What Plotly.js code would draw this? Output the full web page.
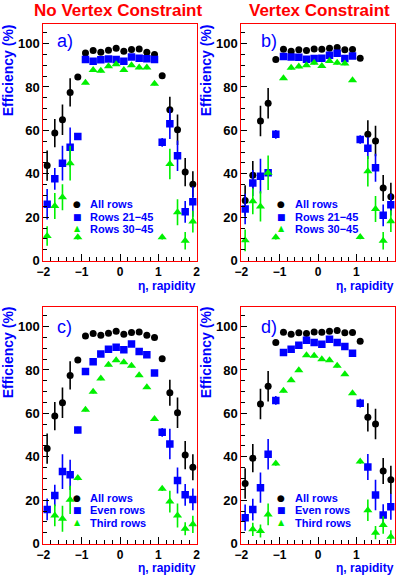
<!DOCTYPE html>
<html><head><meta charset="utf-8">
<script src="https://cdn.plot.ly/plotly-3.0.1.min.js"></script>
<style>html,body{margin:0;padding:0;background:#fff}#chart{width:398px;height:576px}</style>
</head><body><div id="chart"></div>
<script>
// pseudorapidity bin centres
const eta = [-1.9,-1.7,-1.5,-1.3,-1.1,-0.9,-0.7,-0.5,-0.3,-0.1,0.1,0.3,0.5,0.7,0.9,1.1,1.3,1.5,1.7,1.9];

// No vertex constraint: all rows
const noVtxAll    = [43.8,58.8,64.9,77.5,84.6,95.7,96.8,96.0,96.9,97.8,96.5,97.2,97.5,96.0,94.9,85.2,69.5,60.3,40.8,35.2];
const noVtxAllErr = [7,6.5,7,6.5,1.2,0.8,0.8,0.8,0.8,0.8,0.8,0.8,0.8,0.8,0.8,1.2,6,7,6.5,6];
// No vertex constraint: rows 21-45
const noVtxR21    = [26.0,37.7,44.9,52.3,57.2,92.6,91.8,92.5,92.9,92.6,91.8,93.8,93.2,93.0,92.6,54.5,63.1,48.3,22.5,27.2];
const noVtxR21Err = [7,5,8,9,1.5,0.8,0.8,0.8,0.8,0.8,0.8,0.8,0.8,0.8,0.8,2,7,7,5,7];
// No vertex constraint: rows 30-45
const noVtxR30    = [11.4,25.2,29.2,44.9,10.8,82.0,87.8,87.5,89.5,90.5,87.8,90.0,89.0,89.0,81.5,10.8,44.5,22.3,9.2,18.0];
const noVtxR30Err = [4.5,6,6,8,1,0.8,0.8,0.8,0.8,0.8,0.8,0.8,0.8,0.8,0.8,1,7,6,4,5];
// No vertex constraint: even rows
const noVtxEven    = [15.8,22.2,33.2,31.7,52.4,79.3,83.8,87.3,89.6,90.5,89.3,92.0,88.5,87.0,78.6,51.3,45.9,29.1,22.5,20.4];
const noVtxEvenErr = [5,5,8,7,1.5,0.8,0.8,0.8,0.8,0.8,0.8,0.8,0.8,0.8,0.8,2,7,6,5,5];
// No vertex constraint: third rows
const noVtxThird    = [null,13.0,11.5,20.2,30.2,61.7,70.0,76.1,82.4,84.5,83.5,81.9,77.6,72.0,57.4,25.3,19.4,13.0,6.9,8.9];
const noVtxThirdErr = [0,5,6,6.5,1,0.8,0.8,0.8,0.8,0.8,0.8,0.8,0.8,0.8,0.8,1,5,5.5,3,4];

// Vertex constraint: all rows
const vtxAll    = [27.7,39.4,64.3,72.5,92.6,97.4,96.5,97.1,96.8,97.5,97.4,97.8,98.2,97.1,97.2,93.2,58.2,55.1,33.5,29.4];
const vtxAllErr = [7,6.5,7,7,1,0.8,0.8,0.8,0.8,0.8,0.8,0.8,0.8,0.8,0.8,1,6.5,7,6,6.5];
// Vertex constraint: rows 21-45
const vtxR21    = [23.8,35.8,38.9,40.5,58.2,94.0,93.8,93.7,92.8,93.1,93.2,94.6,95.5,93.1,94.3,55.8,51.8,42.8,20.9,25.8];
const vtxR21Err = [7,6,8,1.5,2,0.8,0.8,0.8,0.8,0.8,0.8,0.8,0.8,0.8,0.8,2,5,6.5,5,5];
// Vertex constraint: rows 30-45
const vtxR30    = [9.4,27.4,25.0,40.5,10.8,84.0,88.9,89.4,90.0,91.2,89.7,92.0,91.2,90.8,83.1,10.9,41.2,23.8,9.2,18.2];
const vtxR30Err = [5,6,7,8,1,0.8,0.8,0.8,0.8,0.8,0.8,0.8,0.8,0.8,0.8,1,7,6,4,5];
// Vertex constraint: even rows
const vtxEven    = [12.0,15.7,25.8,41.2,66.0,88.0,89.6,91.4,93.7,92.6,91.9,94.2,92.6,90.8,87.7,64.7,35.3,22.4,13.2,17.0];
const vtxEvenErr = [6,5,7,7,2,0.8,0.8,0.8,0.8,0.8,0.8,0.8,0.8,0.8,0.8,2,6,7,5,6];
// Vertex constraint: third rows
const vtxThird    = [null,6.6,5.8,13.5,36.9,70.4,75.3,79.9,86.8,86.5,84.9,84.5,81.9,78.0,69.3,37.8,15.4,5.1,8.6,3.2];
const vtxThirdErr = [0,3,3,5,1,0.8,0.8,0.8,0.8,0.8,0.8,0.8,0.8,0.8,0.8,1,5,3,4,3];

const columnTitles = ['No Vertex Constraint','Vertex Constraint'];
const panelLabels = ['a)','b)','c)','d)'];
const seriesNames = [
  ['All rows','Rows 21\u221245','Rows 30\u221245'],
  ['All rows','Rows 21\u221245','Rows 30\u221245'],
  ['All rows','Even rows','Third rows'],
  ['All rows','Even rows','Third rows']
];
const yTitle = 'Efficiency (%)';
const xTitle = '\u03b7, rapidity';

const BLACK='#000000', BLUE='#0000ff', GREEN='#00f000', RED='#ff0000';
const styles = [
  {symbol:'circle', size:7, color:BLACK, glyph:'\u25cf'},
  {symbol:'square', size:7.5, color:BLUE, glyph:'\u25a0'},
  {symbol:'triangle-up', size:8, color:GREEN, glyph:'\u25b2'}
];

const panels = [
  {xa:'x', ya:'y', data:[[noVtxAll,noVtxAllErr],[noVtxR21,noVtxR21Err],[noVtxR30,noVtxR30Err]]},
  {xa:'x2',ya:'y2',data:[[vtxAll,vtxAllErr],[vtxR21,vtxR21Err],[vtxR30,vtxR30Err]]},
  {xa:'x3',ya:'y3',data:[[noVtxAll,noVtxAllErr],[noVtxEven,noVtxEvenErr],[noVtxThird,noVtxThirdErr]]},
  {xa:'x4',ya:'y4',data:[[vtxAll,vtxAllErr],[vtxEven,vtxEvenErr],[vtxThird,vtxThirdErr]]}
];

const W=398, H=576;
const colX = [[43.3,196.7],[241.3,394.7]];
const rowY = [[24,260.7],[307,543.7]];
const FONT = 'Liberation Sans, Arial, Helvetica, sans-serif';

const traces = [];
panels.forEach((p,pi)=>{
  p.data.forEach((d,si)=>{
    const st = styles[si];
    traces.push({
      type:'scatter', mode:'markers', x:eta, y:d[0],
      xaxis:p.xa, yaxis:p.ya, showlegend:false,
      marker:{symbol:st.symbol, size:st.size, color:st.color, line:{width:0}},
      error_y:{type:'data', array:d[1], visible:true, color:st.color, thickness:1.6, width:0}
    });
  });
});

const layout = {
  width:W, height:H, margin:{l:0,r:0,t:0,b:0},
  paper_bgcolor:'#ffffff', plot_bgcolor:'#ffffff',
  showlegend:false,
  font:{family:FONT, color:'#000'},
  annotations:[]
};

function xAxisDef(ci, anchor){
  return {
    domain:[colX[ci][0]/W, colX[ci][1]/W], anchor:anchor, range:[-2,2],
    tickmode:'linear', tick0:-2, dtick:1, ticks:'inside', ticklen:7, tickwidth:1, tickcolor:'#000',
    minor:{dtick:0.2, tick0:-2, ticks:'inside', ticklen:4, tickwidth:1, tickcolor:'#000'},
    showline:true, linecolor:RED, linewidth:1, mirror:true,
    showgrid:false, zeroline:false, fixedrange:true,
    tickfont:{family:FONT, size:12, color:'#000', weight:'bold'}
  };
}
function yAxisDef(ri, anchor){
  return {
    domain:[1-rowY[ri][1]/H, 1-rowY[ri][0]/H], anchor:anchor, range:[0,109],
    tickmode:'linear', tick0:0, dtick:20, ticks:'inside', ticklen:6, tickwidth:1, tickcolor:'#000',
    minor:{dtick:5, tick0:0, ticks:'inside', ticklen:4, tickwidth:1, tickcolor:'#000'},
    showline:true, linecolor:RED, linewidth:1, mirror:true,
    showgrid:false, zeroline:false, fixedrange:true,
    tickfont:{family:FONT, size:13, color:'#000', weight:'bold'}
  };
}
layout.xaxis  = xAxisDef(0,'y');
layout.xaxis2 = xAxisDef(1,'y2');
layout.xaxis3 = xAxisDef(0,'y3');
layout.xaxis4 = xAxisDef(1,'y4');
layout.yaxis  = yAxisDef(0,'x');
layout.yaxis2 = yAxisDef(0,'x2');
layout.yaxis3 = yAxisDef(1,'x3');
layout.yaxis4 = yAxisDef(1,'x4');

// column titles
const titleCx = [118, 319];
columnTitles.forEach((t,i)=>{
  layout.annotations.push({text:t, xref:'paper', yref:'paper', x:titleCx[i]/W, y:1-10/H,
    xanchor:'center', yanchor:'middle', showarrow:false, borderpad:0,
    font:{family:FONT, size:17, color:RED, weight:'bold'}});
});

// per-panel annotations
const yTitleCy = [70, 352];
const xTitleBottom = [293.5, 576];
const labelPos = [[-1.70,101],[-1.54,101],[-1.70,100],[-1.54,100]];
const legSymX = [-1.11,-0.96,-1.11,-0.96];
const legTxtX = [-0.80,-0.63,-0.80,-0.63];
const legRowsY = [[26.0,20.3,14.6],[26.0,20.3,14.6],[21.1,15.4,9.7],[21.1,15.4,9.7]];
panels.forEach((p,pi)=>{
  const ci = pi%2, ri = Math.floor(pi/2);
  // y title
  layout.annotations.push({text:yTitle, xref:'paper', yref:'paper',
    x:(colX[ci][0]-35)/W, y:1-yTitleCy[ri]/H, xanchor:'center', yanchor:'middle',
    textangle:-90, showarrow:false, font:{family:FONT, size:14, color:BLUE, weight:'bold'}});
  // x title
  layout.annotations.push({text:xTitle, xref:'paper', yref:'paper',
    x:colX[ci][1]/W, y:1-xTitleBottom[ri]/H, xanchor:'right', yanchor:'bottom', borderpad:0,
    showarrow:false, font:{family:FONT, size:12, color:BLUE, weight:'bold'}});
  // panel label
  layout.annotations.push({text:panelLabels[pi], xref:p.xa, yref:p.ya,
    x:labelPos[pi][0], y:labelPos[pi][1], xanchor:'left', yanchor:'middle',
    showarrow:false, font:{family:FONT, size:18, color:BLUE}});
  // legend
  seriesNames[pi].forEach((name,si)=>{
    const st = styles[si];
    layout.annotations.push({text:st.glyph, xref:p.xa, yref:p.ya,
      x:legSymX[pi], y:legRowsY[pi][si], xanchor:'center', yanchor:'middle', borderpad:0,
      showarrow:false, font:{family:'DejaVu Sans', size:si===2?8:9, color:st.color}});
    layout.annotations.push({text:name, xref:p.xa, yref:p.ya,
      x:legTxtX[pi], y:legRowsY[pi][si], xanchor:'left', yanchor:'middle', borderpad:0,
      showarrow:false, font:{family:FONT, size:11, color:BLUE, weight:'bold'}});
  });
});

Plotly.newPlot('chart', traces, layout, {staticPlot:true, displayModeBar:false});
</script>
</body></html>
